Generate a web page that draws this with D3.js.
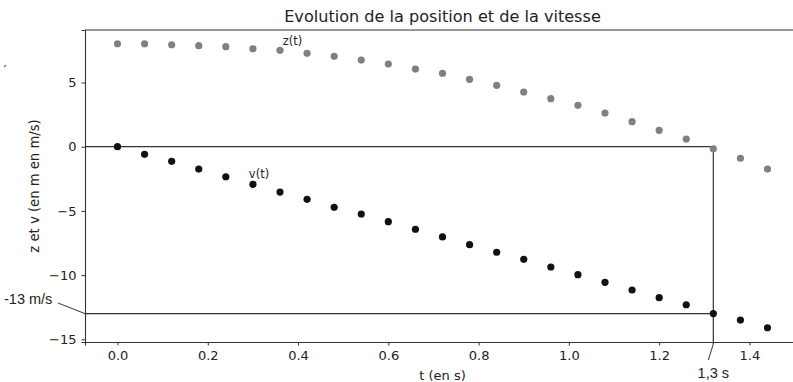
<!DOCTYPE html>
<html>
<head>
<meta charset="utf-8">
<script src="https://cdn.jsdelivr.net/npm/d3@7"></script>
<style>
  html, body { margin: 0; padding: 0; background: #fff; }
  svg { display: block; }
  text { font-family: "DejaVu Sans", sans-serif; fill: #222; }
</style>
</head>
<body>
<svg id="chart" width="793" height="382"></svg>
<script>
// Temps (s), position z (m) et vitesse v (m/s) pendant la chute
const t = [0.00, 0.06, 0.12, 0.18, 0.24, 0.30, 0.36, 0.42, 0.48, 0.54, 0.60, 0.66, 0.72,
           0.78, 0.84, 0.90, 0.96, 1.02, 1.08, 1.14, 1.20, 1.26, 1.32, 1.38, 1.44];
const z = [8.02, 8.02, 7.94, 7.87, 7.79, 7.63, 7.51, 7.27, 7.04, 6.75, 6.44, 6.05, 5.72,
           5.25, 4.78, 4.26, 3.74, 3.22, 2.62, 1.95, 1.28, 0.60, -0.16, -0.90, -1.74];
const v = [0.00, -0.59, -1.14, -1.74, -2.34, -2.93, -3.53, -4.10, -4.72, -5.24, -5.84, -6.43, -7.03,
           -7.63, -8.22, -8.77, -9.37, -9.97, -10.56, -11.16, -11.76, -12.31, -13.00, -13.50, -14.10];
const xTicks = [0.0, 0.2, 0.4, 0.6, 0.8, 1.0, 1.2, 1.4];
const yTicks = [5, 0, -5, -10, -15];

// Lecture graphique : instant où z s'annule et vitesse correspondante
const readIndex = 22;
const tRead = t[readIndex];
const vRead = v[readIndex];
const tReadLabel = "1,3 s";
const vReadLabel = "-13 m/s";

(function draw() {
  const svg = d3.select("#chart");
  const pLeft = 85, pRight = 800, pTop = 30, pBottom = 342;

  const x = d3.scaleLinear().domain([-0.072, 1.512]).range([pLeft, pRight]);
  const y = d3.scaleLinear().domain([-15.21, 9.09]).range([pBottom, pTop]);

  // Title
  svg.append("text")
    .attr("x", (pLeft + pRight) / 2).attr("y", 22)
    .attr("text-anchor", "middle")
    .style("font-size", "16.1px")
    .text("Evolution de la position et de la vitesse");

  // Axes
  const fmtX = d3.format(".1f");
  const fmtY = d => d3.format("d")(d).replace("-", "\u2212");

  const gx = svg.append("g").attr("transform", `translate(0,${pBottom})`)
    .call(d3.axisBottom(x).tickValues(xTicks).tickFormat(fmtX).tickSizeOuter(0).tickSize(3.5).tickPadding(5));
  const gy = svg.append("g").attr("transform", `translate(${pLeft},0)`)
    .call(d3.axisLeft(y).tickValues(yTicks).tickFormat(fmtY).tickSizeOuter(0).tickSize(3.5).tickPadding(5));
  [gx, gy].forEach(g => {
    g.select(".domain").attr("stroke", "#333").attr("stroke-width", 1.1);
    g.selectAll(".tick line").attr("stroke", "#333");
    g.selectAll(".tick text").style("font-size", "13px").attr("fill", "#222")
      .style("font-family", "'DejaVu Sans', sans-serif");
  });
  // Top spine
  svg.append("line")
    .attr("x1", pLeft).attr("x2", pRight).attr("y1", pTop).attr("y2", pTop)
    .attr("stroke", "#333").attr("stroke-width", 1.1);

  // Axis labels
  svg.append("text")
    .attr("x", (pLeft + pRight) / 2).attr("y", 380)
    .attr("text-anchor", "middle")
    .style("font-size", "13px")
    .text("t (en s)");
  svg.append("text")
    .attr("transform", `translate(39,${(pTop + pBottom) / 2}) rotate(-90)`)
    .attr("text-anchor", "middle")
    .style("font-size", "13.2px")
    .text("z et v (en m en m/s)");

  // Reading lines: z = 0, t = tRead, v = vRead
  const guide = svg.append("g").attr("stroke", "#333").attr("stroke-width", 1.2).attr("fill", "none");
  guide.append("line")
    .attr("x1", pLeft).attr("x2", x(tRead)).attr("y1", y(0)).attr("y2", y(0));
  guide.append("line")
    .attr("x1", pLeft).attr("x2", x(tRead)).attr("y1", y(vRead)).attr("y2", y(vRead));
  guide.append("line")
    .attr("x1", x(tRead)).attr("x2", x(tRead)).attr("y1", y(0)).attr("y2", pBottom + 2);

  // Point series
  svg.append("g").selectAll("circle").data(t).join("circle")
    .attr("cx", d => x(d)).attr("cy", (d, i) => y(z[i])).attr("r", 3.6)
    .attr("fill", "#808080");
  svg.append("g").selectAll("circle").data(t).join("circle")
    .attr("cx", d => x(d)).attr("cy", (d, i) => y(v[i])).attr("r", 3.6)
    .attr("fill", "#111");

  // Series labels
  svg.append("text").attr("x", x(0.366)).attr("y", y(7.9))
    .style("font-size", "11.5px").text("z(t)");
  svg.append("text").attr("x", x(0.291)).attr("y", y(-2.45))
    .style("font-size", "11.5px").text("v(t)");

  // Hand annotations of the reading
  const ann = svg.append("g");
  ann.append("line")
    .attr("x1", 58).attr("y1", 303).attr("x2", pLeft).attr("y2", y(vRead))
    .attr("stroke", "#333").attr("stroke-width", 1);
  ann.append("text").attr("x", 4).attr("y", 304)
    .style("font-family", "'Liberation Sans', Arial, sans-serif")
    .style("font-size", "14.5px").attr("fill", "#333")
    .text(vReadLabel);
  ann.append("line")
    .attr("x1", x(tRead)).attr("y1", pBottom + 2).attr("x2", x(tRead) - 5).attr("y2", 360)
    .attr("stroke", "#333").attr("stroke-width", 1);
  ann.append("text").attr("x", x(tRead)).attr("y", 378)
    .attr("text-anchor", "middle")
    .style("font-family", "'Liberation Sans', Arial, sans-serif")
    .style("font-size", "14.5px").attr("fill", "#333")
    .text(tReadLabel);

  // Small stray pen mark near the top-left corner
  svg.append("line").attr("x1", 4).attr("y1", 67).attr("x2", 6).attr("y2", 65)
    .attr("stroke", "#777").attr("stroke-width", 1.2);
})();
</script>
</body>
</html>
